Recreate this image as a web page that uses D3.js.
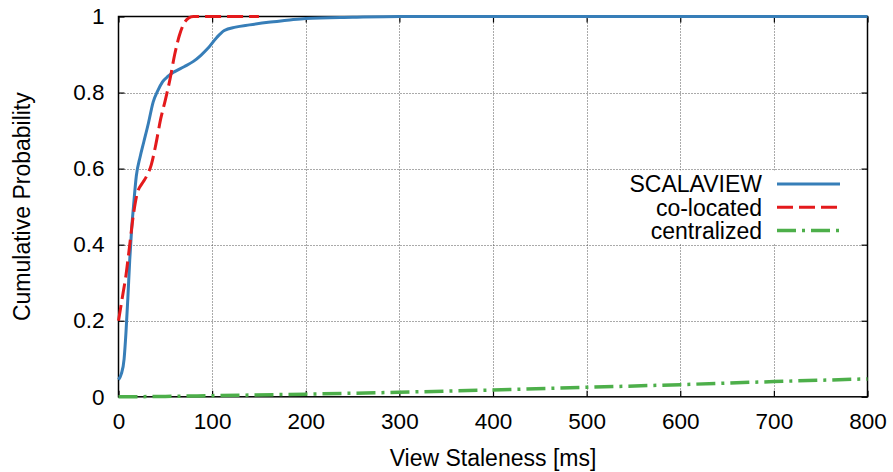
<!DOCTYPE html>
<html>
<head>
<meta charset="utf-8">
<script src="https://cdn.jsdelivr.net/npm/d3@7"></script>
<style>
  html, body { margin: 0; padding: 0; background: #fff; }
  svg { display: block; font-family: "Liberation Sans", Arial, Helvetica, sans-serif; }
</style>
</head>
<body>
<svg id="chart" width="893" height="472"></svg>
<script>
// CDF of view staleness (ms) for three deployments
const scalaviewX = [0, 3, 6, 8, 10, 12, 14, 16, 19, 23, 27, 32, 37, 42, 47, 53, 60, 70, 80, 88, 95, 105, 113, 125, 140, 160, 180, 200, 250, 300, 400, 800];
const scalaviewY = [0.045, 0.06, 0.10, 0.17, 0.26, 0.36, 0.44, 0.50, 0.58, 0.63, 0.67, 0.72, 0.775, 0.805, 0.828, 0.843, 0.855, 0.868, 0.882, 0.898, 0.915, 0.945, 0.963, 0.972, 0.978, 0.985, 0.990, 0.995, 0.998, 1, 1, 1];

const colocatedX = [0, 4, 8, 12, 16, 20, 25, 30, 35, 40, 45, 50, 55, 60, 65, 70, 75, 80, 150];
const colocatedY = [0.20, 0.26, 0.32, 0.40, 0.48, 0.535, 0.56, 0.58, 0.61, 0.665, 0.73, 0.78, 0.835, 0.90, 0.95, 0.982, 0.996, 1, 1];

const centralizedX = [0, 50, 100, 200, 300, 400, 500, 600, 700, 800];
const centralizedY = [0, 0.001, 0.003, 0.007, 0.012, 0.018, 0.025, 0.032, 0.040, 0.047];

const xTicks = [0, 100, 200, 300, 400, 500, 600, 700, 800];
const yTicks = [0, 0.2, 0.4, 0.6, 0.8, 1];
const seriesNames = ["SCALAVIEW", "co-located", "centralized"];
const xTitle = "View Staleness [ms]";
const yTitle = "Cumulative Probability";

const svg = d3.select("#chart");
const L = 118.5, R = 867.5, T = 16.5, B = 396.8;

const x = d3.scaleLinear().domain([0, 800]).range([L, R]);
const y = d3.scaleLinear().domain([0, 1]).range([B, T]);

const series = [
  { name: seriesNames[0], xs: scalaviewX, ys: scalaviewY, color: "#377eb8", width: 3, dash: null },
  { name: seriesNames[1], xs: colocatedX, ys: colocatedY, color: "#e41a1c", width: 3, dash: "16,6" },
  { name: seriesNames[2], xs: centralizedX, ys: centralizedY, color: "#4daf4a", width: 3.5, dash: "19,6,3,6" }
];

// grid
const grid = svg.append("g").attr("stroke", "#555").attr("stroke-width", 1).attr("stroke-dasharray", "1,2");
grid.selectAll("line.gx").data(xTicks.slice(1, -1)).join("line")
  .attr("x1", d => Math.round(x(d)) + 0.5).attr("x2", d => Math.round(x(d)) + 0.5)
  .attr("y1", T).attr("y2", B);
grid.selectAll("line.gy").data(yTicks.slice(1, -1)).join("line")
  .attr("y1", d => Math.round(y(d)) + 0.5).attr("y2", d => Math.round(y(d)) + 0.5)
  .attr("x1", L).attr("x2", R);

// axes with inward ticks, mirrored on top/right
const tickFont = 22.5;
const titleFont = 23;
const xAxis = d3.axisBottom(x).tickValues(xTicks).tickSize(-6).tickPadding(16).tickFormat(d3.format("d"));
const yAxis = d3.axisLeft(y).tickValues(yTicks).tickSize(-6).tickPadding(14).tickFormat(d => d === 0 || d === 1 ? String(d) : d3.format(".1f")(d));

const gx = svg.append("g").attr("transform", `translate(0,${B})`).call(xAxis);
const gy = svg.append("g").attr("transform", `translate(${L},0)`).call(yAxis);
const gxTop = svg.append("g").attr("transform", `translate(0,${T})`).call(d3.axisTop(x).tickValues(xTicks).tickSize(-6).tickFormat(""));
const gyRight = svg.append("g").attr("transform", `translate(${R},0)`).call(d3.axisRight(y).tickValues(yTicks).tickSize(-6).tickFormat(""));
[gx, gy, gxTop, gyRight].forEach(g => {
  g.select(".domain").remove();
  g.selectAll(".tick line").attr("stroke", "#000").attr("stroke-width", 1.2);
  g.selectAll("text").attr("font-size", tickFont).attr("fill", "#000")
    .attr("font-family", "'Liberation Sans', Arial, sans-serif");
});

// frame
svg.append("rect").attr("x", L).attr("y", T).attr("width", R - L).attr("height", B - T)
  .attr("fill", "none").attr("stroke", "#000").attr("stroke-width", 1.5);

// opaque key background
svg.append("rect").attr("x", 612).attr("y", 170.5).attr("width", 245).attr("height", 73).attr("fill", "#fff");

// curves
series.forEach(s => {
  const pts = s.xs.map((v, i) => [v, s.ys[i]]);
  svg.append("path").datum(pts)
    .attr("fill", "none").attr("stroke", s.color).attr("stroke-width", s.width)
    .attr("stroke-dasharray", s.dash)
    .attr("stroke-linejoin", "round")
    .attr("d", d3.line().x(d => x(d[0])).y(d => y(d[1])).curve(d3.curveMonotoneX));
});

// key
const key = svg.append("g");
series.forEach((s, i) => {
  const ky = 184 + i * 23.3;
  key.append("text").attr("x", 762).attr("y", ky).attr("dy", "0.36em")
    .attr("text-anchor", "end").attr("font-size", titleFont).text(s.name);
  key.append("line").attr("x1", 777).attr("x2", 840).attr("y1", ky).attr("y2", ky)
    .attr("stroke", s.color).attr("stroke-width", s.width).attr("stroke-dasharray", s.dash);
});

// axis titles
svg.append("text").attr("x", (L + R) / 2).attr("y", 458).attr("dy", "0.36em")
  .attr("text-anchor", "middle").attr("font-size", titleFont).text(xTitle);
svg.append("text").attr("transform", `translate(22,${(T + B) / 2}) rotate(-90)`).attr("dy", "0.36em")
  .attr("text-anchor", "middle").attr("font-size", titleFont).text(yTitle);
</script>
</body>
</html>
